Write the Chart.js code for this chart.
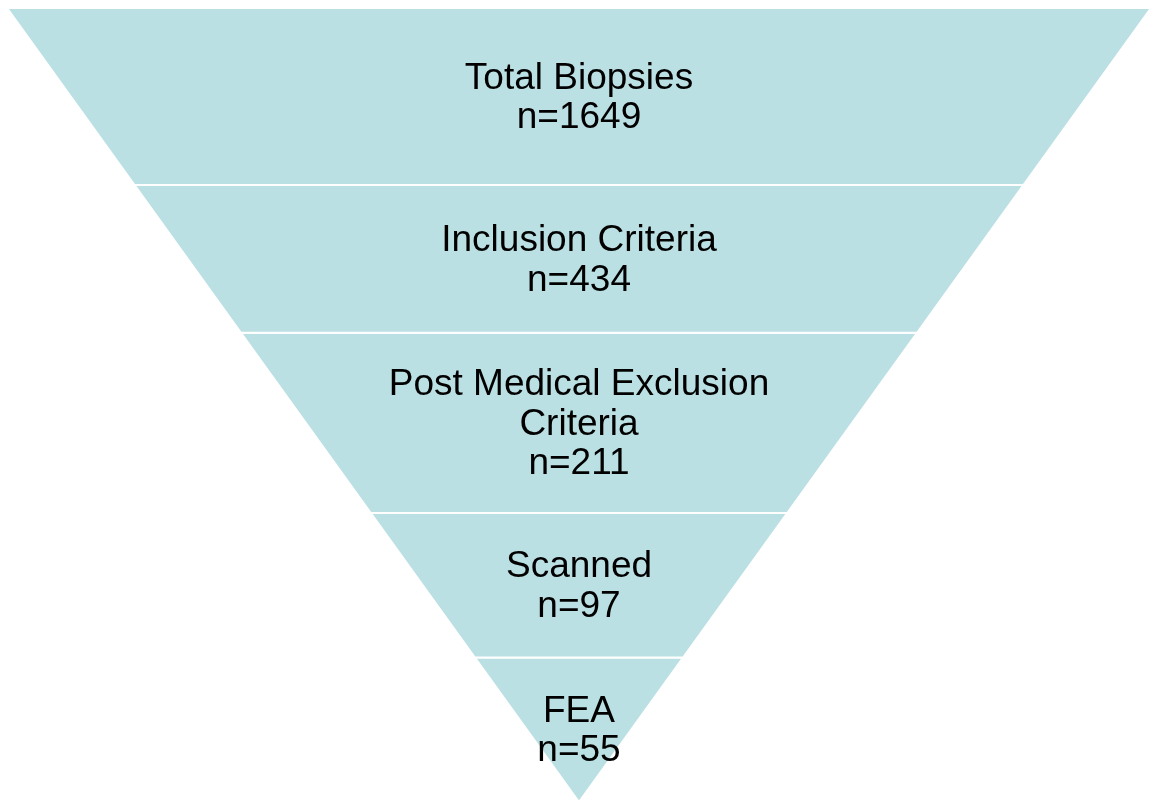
<!DOCTYPE html>
<html>
<head>
<meta charset="utf-8">
<title>Biopsy funnel</title>
<script src="https://cdn.jsdelivr.net/npm/chart.js@4.4.1/dist/chart.umd.min.js"></script>
<style>
  html, body { margin: 0; padding: 0; background: #ffffff; }
  #wrap { width: 1152px; height: 802px; position: relative; }
</style>
</head>
<body>
<div id="wrap"><canvas id="funnel"></canvas></div>
<script>
// --- data ---
const stageLabels = [
  ['Total Biopsies'],
  ['Inclusion Criteria'],
  ['Post Medical Exclusion', 'Criteria'],
  ['Scanned'],
  ['FEA']
];
const stageCounts = [1649, 434, 211, 97, 55];
// band edges, as share of the funnel height measured from the tip (1 = top edge)
const bandEdges = [1, 0.777, 0.591, 0.364, 0.182, 0];

const FILL = '#bbe0e3';
const FONT = '37px "Liberation Sans", Arial, sans-serif';

// each band is a trapezoid of the triangle: half-width equals height from tip
function bandShape(hi, lo) {
  return [
    { x: -hi, y: hi }, { x: hi, y: hi },
    { x: lo, y: lo }, { x: -lo, y: lo },
    { x: -hi, y: hi }
  ];
}

const datasets = stageCounts.map((n, i) => ({
  label: stageLabels[i].join(' '),
  data: bandShape(bandEdges[i], bandEdges[i + 1]),
  showLine: true,
  fill: 'shape',
  backgroundColor: FILL,
  borderColor: '#ffffff',
  borderWidth: 2,
  pointRadius: 0,
  pointHoverRadius: 0,
  tension: 0
}));

// write the stage names and counts in the middle of each band
const bandText = {
  id: 'bandText',
  afterDatasetsDraw(chart) {
    const { ctx, scales } = chart;
    const cx = scales.x.getPixelForValue(0);
    const lineH = 39.5;
    ctx.save();
    ctx.font = FONT;
    ctx.fillStyle = '#000000';
    ctx.textAlign = 'center';
    ctx.textBaseline = 'alphabetic';
    stageCounts.forEach((n, i) => {
      const lines = [...stageLabels[i], 'n=' + n];
      const cy = scales.y.getPixelForValue((bandEdges[i] + bandEdges[i + 1]) / 2);
      lines.forEach((t, k) => {
        const y = cy + 12 + (k - (lines.length - 1) / 2) * lineH;
        ctx.fillText(t, cx, y);
      });
    });
    ctx.restore();
  }
};

new Chart(document.getElementById('funnel'), {
  type: 'scatter',
  data: { datasets },
  options: {
    responsive: true,
    maintainAspectRatio: false,
    animation: false,
    layout: { padding: { top: 8, left: 7, right: 1, bottom: 0 } },
    plugins: {
      legend: { display: false },
      tooltip: { enabled: false }
    },
    scales: {
      x: { type: 'linear', min: -1, max: 1, display: false },
      y: { type: 'linear', min: 0, max: 1, display: false }
    }
  },
  plugins: [bandText]
});
</script>
</body>
</html>
